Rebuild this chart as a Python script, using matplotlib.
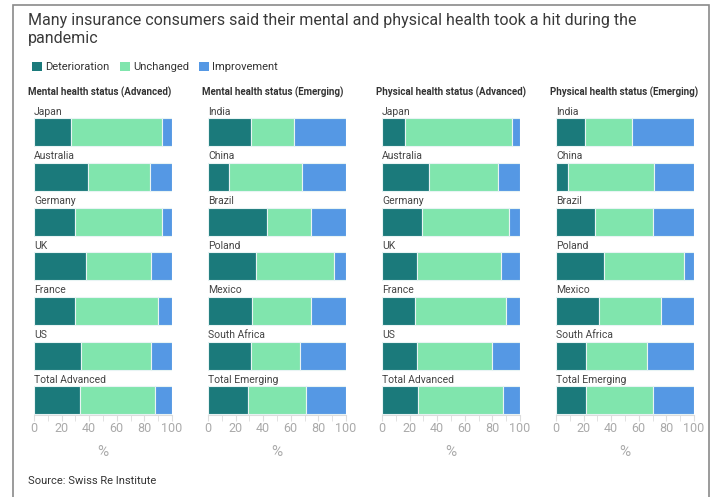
import matplotlib
matplotlib.use('Agg')
import matplotlib.pyplot as plt
from matplotlib.patches import Patch, Rectangle

plt.rcParams['font.family'] = ['Roboto', 'DejaVu Sans']

# data (%)
adv_countries = ['Japan', 'Australia', 'Germany', 'UK', 'France', 'US', 'Total Advanced']
emg_countries = ['India', 'China', 'Brazil', 'Poland', 'Mexico', 'South Africa', 'Total Emerging']

mental_adv_det = [27, 39, 30, 38, 30, 34, 33]
mental_adv_unch = [66, 45, 63, 47, 60, 51, 55]
mental_adv_imp = [7, 16, 7, 15, 10, 15, 12]

mental_emg_det = [31, 15, 43, 35, 32, 31, 29]
mental_emg_unch = [31, 53, 32, 56, 43, 36, 42]
mental_emg_imp = [38, 32, 25, 9, 25, 33, 29]

phys_adv_det = [17, 34, 29, 25, 24, 25, 26]
phys_adv_unch = [77, 50, 63, 61, 66, 55, 62]
phys_adv_imp = [6, 16, 8, 14, 10, 20, 12]

phys_emg_det = [21, 9, 28, 35, 31, 22, 22]
phys_emg_unch = [34, 62, 42, 58, 45, 44, 48]
phys_emg_imp = [45, 29, 30, 7, 24, 34, 30]

panel_titles = ['Mental health status (Advanced)', 'Mental health status (Emerging)',
                'Physical health status (Advanced)', 'Physical health status (Emerging)']
series_names = ['Deterioration', 'Unchanged', 'Improvement']
colors = ['#1b7a7b', '#80e5ad', '#5598e4']

panels = [
    (adv_countries, mental_adv_det, mental_adv_unch, mental_adv_imp),
    (emg_countries, mental_emg_det, mental_emg_unch, mental_emg_imp),
    (adv_countries, phys_adv_det, phys_adv_unch, phys_adv_imp),
    (emg_countries, phys_emg_det, phys_emg_unch, phys_emg_imp),
]

W, H = 720, 497
fig = plt.figure(figsize=(7.2, 4.97), dpi=100)

# outer frame
fig.patches.append(Rectangle((13 / W, -0.1), 696 / W, 1.1 - 5 / H, transform=fig.transFigure,
                             fill=False, edgecolor='#8a8a8a', lw=1.2))

fig.text(28 / W, 1 - 20 / H, 'Many insurance consumers said their mental and physical health took a hit during the',
         fontsize=11.5, color='#3a3a3a', va='center')
fig.text(28 / W, 1 - 39 / H, 'pandemic', fontsize=11.5, color='#3a3a3a', va='center')

handles = [Patch(facecolor=c, edgecolor='none') for c in colors]
fig.legend(handles, series_names, loc='center left', bbox_to_anchor=(22 / W, 1 - 67 / H),
           ncol=3, frameon=False, fontsize=8, handlelength=0.9, handleheight=0.9,
           handletextpad=0.3, columnspacing=0.9, labelcolor='#333333')

lefts = [34, 208, 382, 556]
pw = 138
top_px, bot_px = 101, 415

for k, (names, det, unch, imp) in enumerate(panels):
    ax = fig.add_axes([lefts[k] / W, 1 - bot_px / H, pw / W, (bot_px - top_px) / H])
    rows = list(range(len(names)))
    ax.barh(rows, det, height=0.63, color=colors[0], edgecolor='#e8f4f4', lw=0.8)
    ax.barh(rows, unch, left=det, height=0.63, color=colors[1], edgecolor='#e8f4f4', lw=0.8)
    left2 = [a + b for a, b in zip(det, unch)]
    ax.barh(rows, imp, left=left2, height=0.63, color=colors[2], edgecolor='#e8f4f4', lw=0.8)
    for r, n in zip(rows, names):
        ax.text(0, r - 0.46, n, fontsize=7.5, color='#444444', va='center', ha='left')
    ax.set_xlim(0, 100)
    ax.set_ylim(6.33, -0.7)
    ax.set_yticks([])
    for s in ['top', 'right', 'left']:
        ax.spines[s].set_visible(False)
    ax.spines['bottom'].set_color('#dddddd')
    ax.set_xticks([0, 20, 40, 60, 80, 100])
    ax.set_xticks([10, 30, 50, 70, 90], minor=True)
    ax.tick_params(axis='x', which='both', length=4, color='#dddddd', labelsize=9,
                   labelcolor='#aaaaaa', pad=1)
    ax.set_xlabel('%', fontsize=11, color='#aaaaaa', labelpad=7)
    fig.text((lefts[k] - 6) / W, 1 - 92 / H, panel_titles[k], fontsize=7, fontweight='bold',
             color='#333333', va='center')

fig.text(28 / W, 1 - 481 / H, 'Source: Swiss Re Institute', fontsize=8, color='#333333', va='center')

fig.savefig('out.png', dpi=100)
